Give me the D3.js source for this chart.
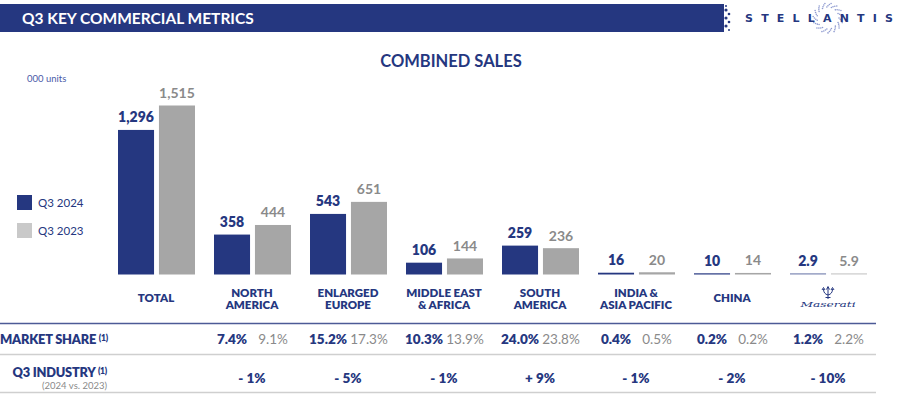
<!DOCTYPE html>
<html>
<head>
<meta charset="utf-8">
<script src="https://cdn.jsdelivr.net/npm/d3@7"></script>
<style>
  body { margin: 0; background: #fff; }
  svg { display: block; font-family: Lato, "Open Sans", sans-serif; }
</style>
</head>
<body>
<div id="canvas"></div>
<script>
// values (000 units)
var categories = ["TOTAL", "NORTH AMERICA", "ENLARGED EUROPE", "MIDDLE EAST & AFRICA",
                  "SOUTH AMERICA", "INDIA & ASIA PACIFIC", "CHINA", "MASERATI"];
var labelLines = [["TOTAL"], ["NORTH", "AMERICA"], ["ENLARGED", "EUROPE"], ["MIDDLE EAST", "& AFRICA"],
                  ["SOUTH", "AMERICA"], ["INDIA &", "ASIA PACIFIC"], ["CHINA"], []];
var series = ["Q3 2024", "Q3 2023"];
var sales2024 = [1296, 358, 543, 106, 259, 16, 10, 2.9];
var sales2023 = [1515, 444, 651, 144, 236, 20, 14, 5.9];
var share2024 = [null, 7.4, 15.2, 10.3, 24.0, 0.4, 0.2, 1.2];
var share2023 = [null, 9.1, 17.3, 13.9, 23.8, 0.5, 0.2, 2.2];
var industryChange = [null, -1, -5, -1, 9, -1, -2, -10];

var W = 907, H = 398;
var navy = "#253780", grey = "#a6a6a6", greyText = "#8a8a8a", legendGrey = "#c9c9c9";

var svg = d3.select("#canvas").append("svg")
    .attr("width", W).attr("height", H);

// header band
svg.append("rect").attr("x", 0).attr("y", 4).attr("width", 724).attr("height", 28).attr("fill", navy);
var edgeDots = [[726, 10, 1.6], [729, 14, 1.3], [726, 18, 1.6], [729, 22, 1.3], [726, 26, 1.6], [729, 30, 1.0], [726, 6, 1.0]];
svg.selectAll("circle.edge").data(edgeDots).enter().append("circle")
    .attr("class", "edge").attr("cx", function (d) { return d[0]; }).attr("cy", function (d) { return d[1]; })
    .attr("r", function (d) { return d[2]; }).attr("fill", navy);
svg.append("text").attr("x", 22).attr("y", 23.5)
    .attr("fill", "#fff").attr("font-weight", 700).attr("font-size", 15.5)
    .text("Q3 KEY COMMERCIAL METRICS");

// stellantis wordmark
var ring = d3.range(60).map(function (i) { return i; });
svg.selectAll("circle.ring").data(ring).enter().append("circle")
    .attr("class", "ring")
    .attr("cx", function (d) { return 828 + (11 + (d % 4) * 1.3) * Math.cos(d / 60 * 2 * Math.PI); })
    .attr("cy", function (d) { return 18 + (11 + (d % 4) * 1.3) * Math.sin(d / 60 * 2 * Math.PI); })
    .attr("r", 0.8).attr("fill", "#8f9bd0");
svg.append("text").attr("x", 745).attr("y", 21.5)
    .attr("fill", navy).attr("font-family", "DejaVu Sans").attr("font-weight", 700).attr("font-size", 11)
    .attr("textLength", 148).attr("lengthAdjust", "spacing")
    .text("STELLANTIS");

// titles
svg.append("text").attr("x", 451).attr("y", 66.5).attr("text-anchor", "middle")
    .attr("fill", navy).attr("font-weight", 700).attr("font-size", 16.5)
    .text("COMBINED SALES");
svg.append("text").attr("x", 27).attr("y", 82)
    .attr("fill", "#4a5aa8").attr("font-size", 9.5)
    .text("000 units");

// legend
var legend = svg.selectAll("g.legend").data(series).enter().append("g")
    .attr("class", "legend")
    .attr("transform", function (d, i) { return "translate(17," + (195 + i * 28) + ")"; });
legend.append("rect").attr("width", 15).attr("height", 15)
    .attr("fill", function (d, i) { return i === 0 ? navy : legendGrey; });
legend.append("text").attr("x", 21).attr("y", 11.5)
    .attr("fill", navy).attr("font-size", 11.5)
    .text(function (d) { return d; });

// scales
var x = d3.scaleBand().domain(categories).range([108, 876]);
var xSub = d3.scaleBand().domain(series).range([10, 87]).paddingInner(0.12);
var y = d3.scaleLinear().domain([0, 1515]).range([274.5, 105.5]);

var fmt = function (v) { return v % 1 ? d3.format(".1f")(v) : d3.format(",")(v); };

var rows = categories.map(function (c, i) {
    return { cat: c, i: i, vals: [sales2024[i], sales2023[i]] };
});

var groups = svg.selectAll("g.group").data(rows).enter().append("g")
    .attr("class", "group")
    .attr("transform", function (d) { return "translate(" + x(d.cat) + ",0)"; });

var bars = groups.selectAll("g.bar").data(function (d) {
    return d.vals.map(function (v, j) { return { s: series[j], v: v, j: j }; });
}).enter().append("g").attr("class", "bar");

bars.append("rect")
    .attr("x", function (d) { return xSub(d.s); })
    .attr("width", xSub.bandwidth())
    .attr("y", function (d) { return Math.min(y(d.v), y(0) - 1.2); })
    .attr("height", function (d) { return Math.max(y(0) - y(d.v), 1.2); })
    .attr("fill", function (d) { return d.j === 0 ? navy : grey; })
    .attr("opacity", function (d) { return y(0) - y(d.v) < 1 ? 0.6 : 1; });

bars.append("text")
    .attr("x", function (d) { return xSub(d.s) + xSub.bandwidth() / 2; })
    .attr("y", function (d) { return Math.min(y(d.v), y(0) - 1.2) - 7.5; })
    .attr("text-anchor", "middle")
    .attr("font-size", 14).attr("font-weight", function (d) { return d.j === 0 ? 800 : 700; })
    .attr("fill", function (d) { return d.j === 0 ? navy : greyText; })
    .text(function (d) { return fmt(d.v); });

// category labels
groups.each(function (d) {
    var lines = labelLines[d.i];
    var g = d3.select(this);
    var cx = x.bandwidth() / 2;
    var t = g.append("text").attr("text-anchor", "middle")
        .attr("fill", navy).attr("font-weight", 800).attr("font-size", 11.5);
    if (lines.length === 1) {
        t.append("tspan").attr("x", cx).attr("y", 302).text(lines[0]);
    } else {
        lines.forEach(function (l, k) {
            t.append("tspan").attr("x", cx).attr("y", 296.5 + k * 12).text(l);
        });
    }
});

// maserati brand mark instead of a text label
var mas = svg.append("g").attr("transform", "translate(" + (x("MASERATI") + x.bandwidth() / 2) + ",0)");
mas.append("path")
    .attr("d", "M0,287 L0,299 M-4.5,289 Q-4.5,294 0,295 Q4.5,294 4.5,289 M-2.5,297.5 L2.5,297.5" +
               " M-6,290 L-4.5,287.5 L-3,290 M-1.5,289.5 L0,286.5 L1.5,289.5 M3,290 L4.5,287.5 L6,290")
    .attr("fill", "none").attr("stroke", navy).attr("stroke-width", 1);
mas.append("text").attr("x", 0).attr("y", 307).attr("text-anchor", "middle")
    .attr("font-family", "DejaVu Serif").attr("font-style", "italic").attr("font-size", 8)
    .attr("textLength", 55).attr("lengthAdjust", "spacingAndGlyphs")
    .attr("fill", navy).text("Maserati");

// table lines
svg.append("line").attr("x1", 0).attr("x2", 876).attr("y1", 323.5).attr("y2", 323.5)
    .attr("stroke", "#4c5a96").attr("stroke-width", 1.5);
[354.5, 392.5].forEach(function (ly) {
    svg.append("line").attr("x1", 0).attr("x2", 876).attr("y1", ly).attr("y2", ly)
        .attr("stroke", "#cfcfcf").attr("stroke-width", 1.5);
});

// market share row
var ms = svg.append("text").attr("x", 0).attr("y", 344)
    .attr("fill", navy).attr("font-weight", 800).attr("font-size", 12.8).attr("letter-spacing", -0.2);
ms.append("tspan").text("MARKET SHARE ");
ms.append("tspan").attr("font-size", 8.5).attr("dy", -3).text("(1)");

var ind = svg.append("text").attr("x", 107).attr("y", 377).attr("text-anchor", "end")
    .attr("fill", navy).attr("font-weight", 800).attr("font-size", 12.8).attr("letter-spacing", -0.2);
ind.append("tspan").text("Q3 INDUSTRY ");
ind.append("tspan").attr("font-size", 8.5).attr("dy", -3).text("(1)");
svg.append("text").attr("x", 107).attr("y", 389).attr("text-anchor", "end")
    .attr("fill", greyText).attr("font-size", 9.5).text("(2024 vs. 2023)");

var shareRows = categories.map(function (c, i) {
    return { cat: c, a: share2024[i], b: share2023[i], ind: industryChange[i] };
}).filter(function (d) { return d.a !== null; });

var sg = svg.selectAll("g.share").data(shareRows).enter().append("g")
    .attr("class", "share")
    .attr("transform", function (d) { return "translate(" + x(d.cat) + ",0)"; });
sg.append("text")
    .attr("x", xSub(series[0]) + xSub.bandwidth() / 2).attr("y", 344)
    .attr("text-anchor", "middle").attr("fill", navy).attr("font-weight", 800).attr("font-size", 13.5)
    .text(function (d) { return d.a.toFixed(1) + "%"; });
sg.append("text")
    .attr("x", xSub(series[1]) + xSub.bandwidth() / 2).attr("y", 344)
    .attr("text-anchor", "middle").attr("fill", greyText).attr("font-size", 13.5)
    .text(function (d) { return d.b.toFixed(1) + "%"; });
sg.append("text")
    .attr("x", x.bandwidth() / 2).attr("y", 383)
    .attr("text-anchor", "middle").attr("fill", navy).attr("font-weight", 800).attr("font-size", 13.5)
    .text(function (d) { return (d.ind < 0 ? "- " : "+ ") + Math.abs(d.ind) + "%"; });
</script>
</body>
</html>
